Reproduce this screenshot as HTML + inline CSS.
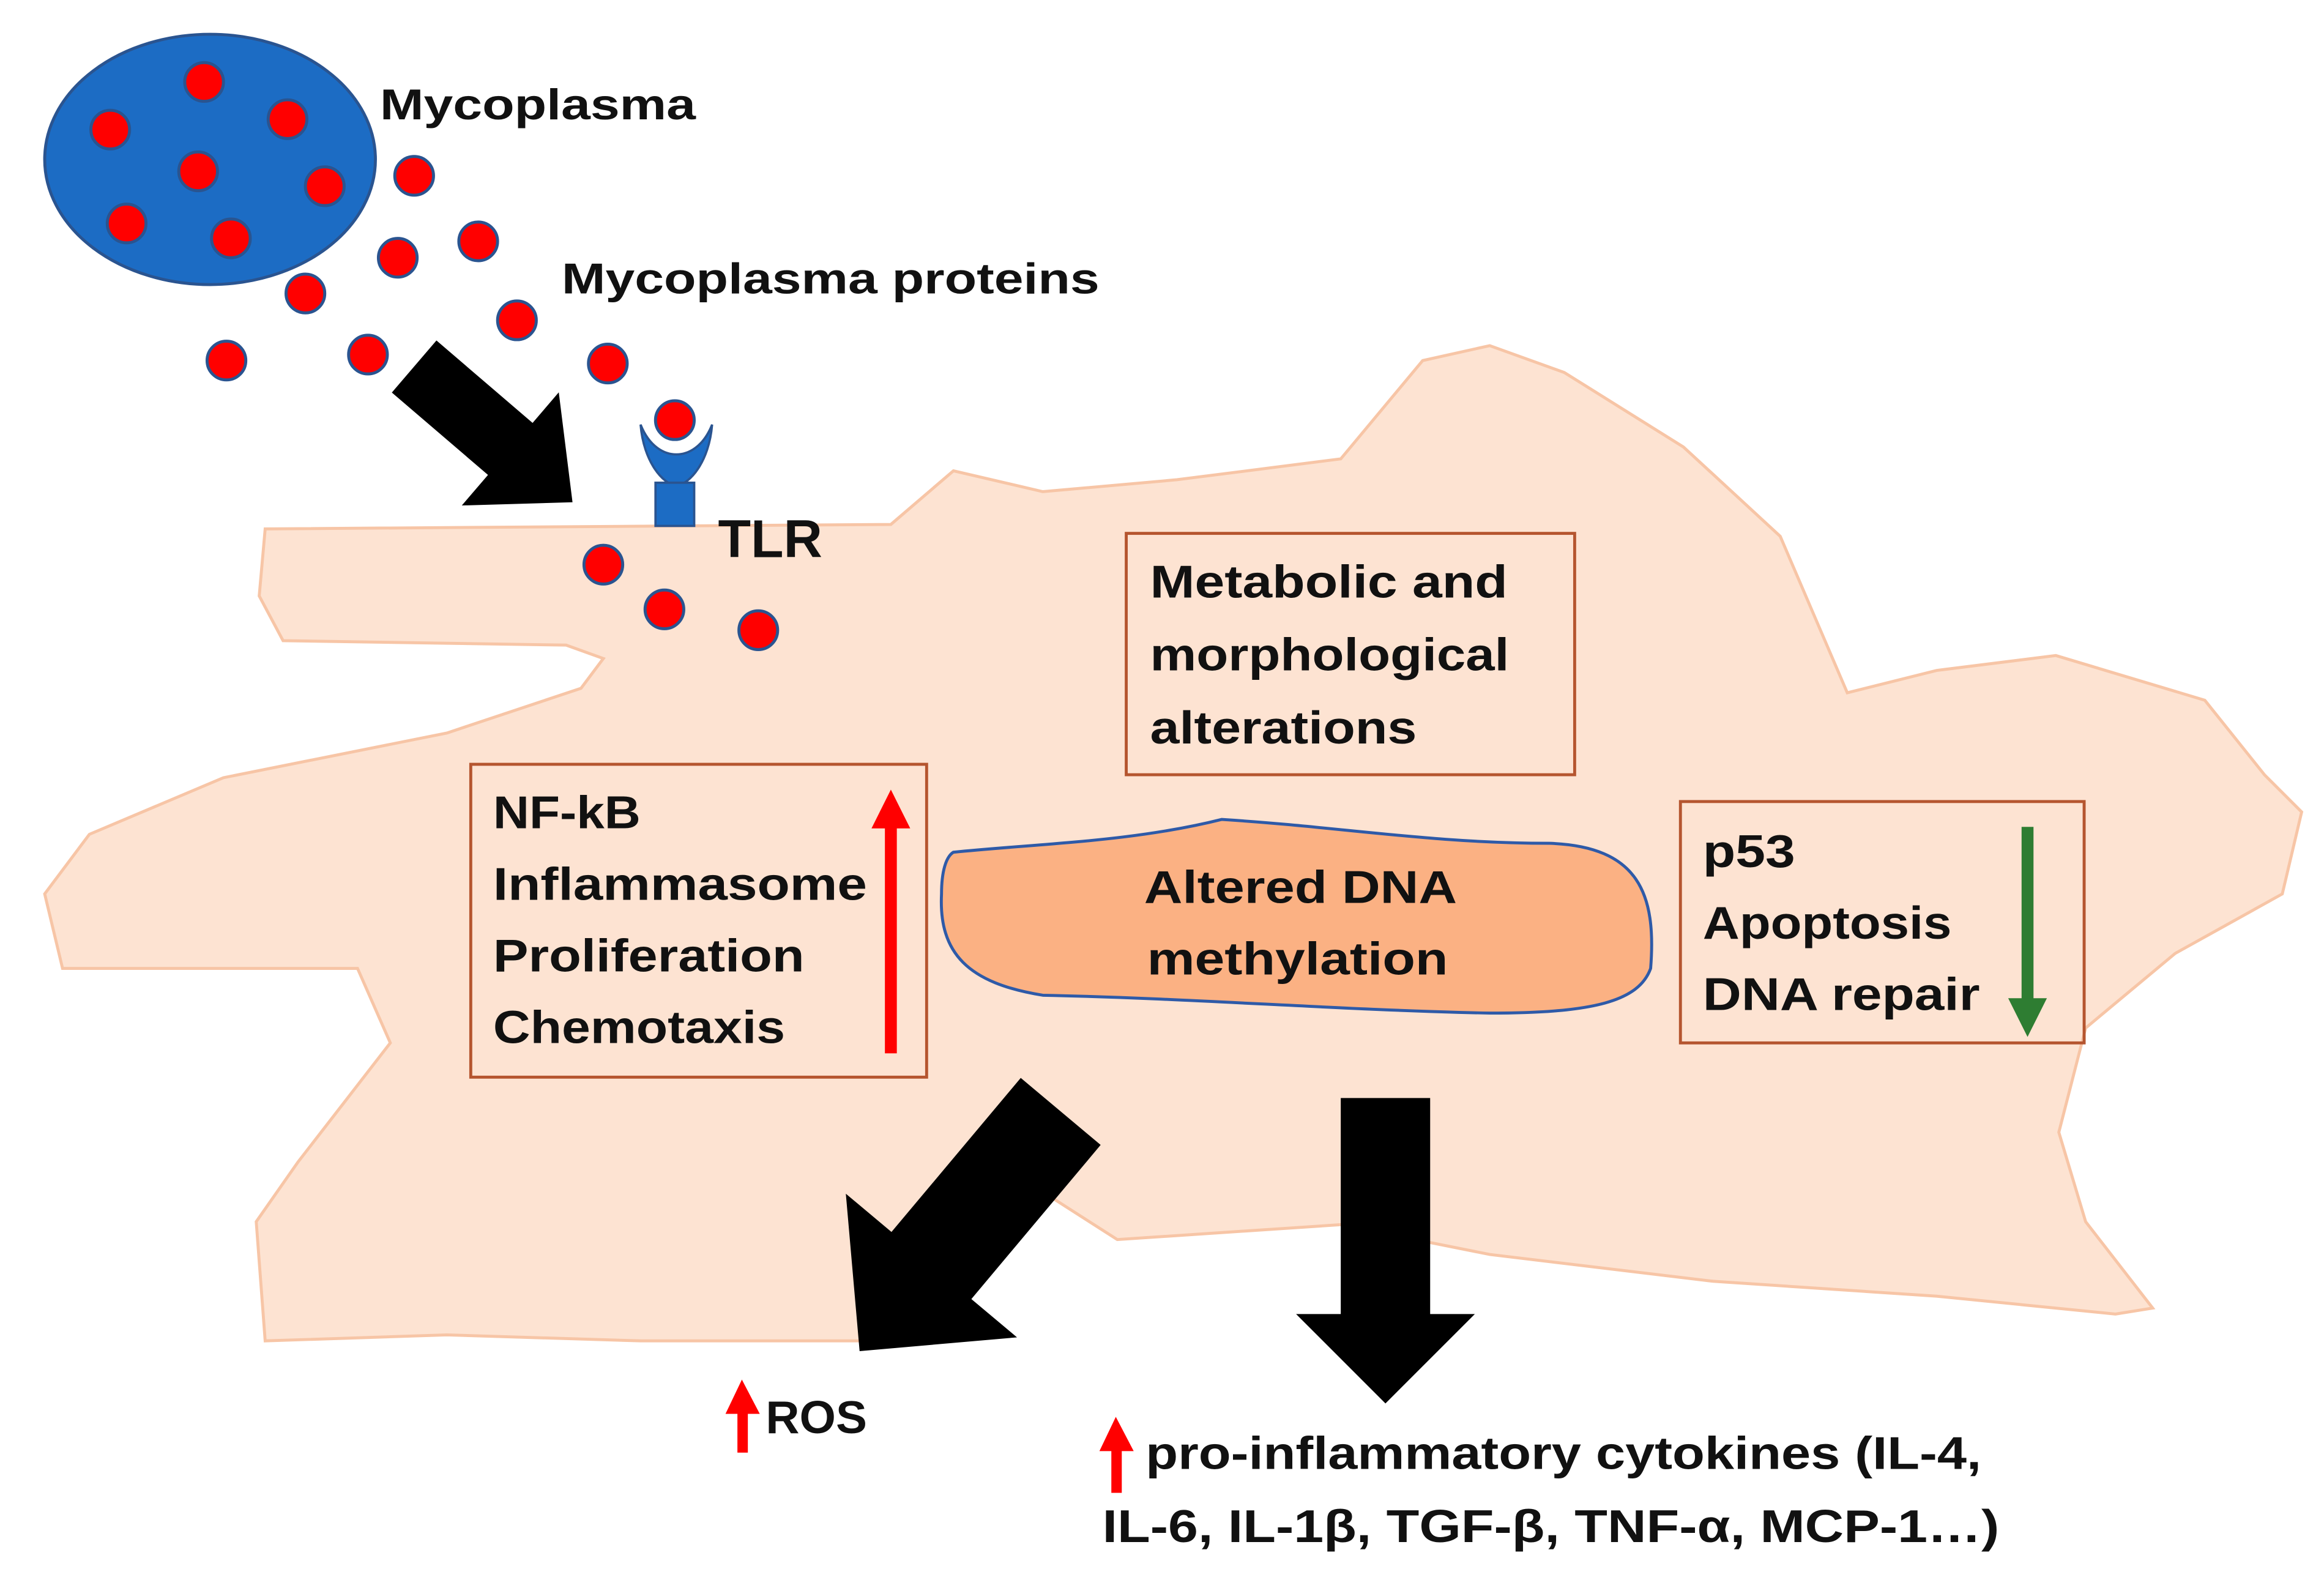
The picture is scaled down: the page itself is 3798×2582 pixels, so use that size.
<!DOCTYPE html>
<html><head><meta charset="utf-8"><style>
html,body{margin:0;padding:0;background:#fff;}
svg{display:block;}
text{font-family:"Liberation Sans",sans-serif;font-weight:bold;fill:#111;}
</style></head><body>
<svg width="3798" height="2582" viewBox="0 0 1560 1060.5" xmlns="http://www.w3.org/2000/svg" preserveAspectRatio="none">
<rect width="1560" height="1061" fill="#fff"/>
<!-- cell -->
<path d="M178,355 L598,352 L640,316 L700,330 L790,322 L900,308 L955,242 L1000,232 L1050,250 L1130,300 L1195,360 L1240,465 L1300,450 L1380,440 L1480,470 L1520,520 L1545,545 L1532,600 L1460,640 L1400,690 L1382,760 L1400,820 L1445,878 L1420,882 L1300,870 L1150,860 L1000,842 L900,822 L750,832 L700,800 L640,870 L598,900 L430,900 L300,896 L178,900 L172,820 L200,780 L262,700 L240,650 L42,650 L30,600 L60,560 L150,522 L300,492 L390,462 L405,442 L380,433 L190,430 L174,400 Z" fill="#fde3d2" stroke="#f7c5a6" stroke-width="2"/>
<!-- nucleus -->
<path d="M640,572 C700,566 760,565 820,550 C900,555 960,566 1040,566 C1100,568 1112,600 1108,650 C1100,672 1070,680 1000,680 C900,678 800,670 700,668 C650,660 630,640 632,600 C632,585 635,575 640,572 Z" fill="#fbb183" stroke="#2e5aa8" stroke-width="2"/>
<!-- mycoplasma -->
<ellipse cx="141" cy="107" rx="111" ry="84" fill="#1c6cc4" stroke="#2a5490" stroke-width="2"/>
<g fill="#f00" stroke="#2a5490" stroke-width="2">
<circle cx="137" cy="55" r="13"/><circle cx="193" cy="80" r="13"/><circle cx="74" cy="87" r="13"/>
<circle cx="133" cy="115" r="13"/><circle cx="218" cy="125" r="13"/><circle cx="85" cy="150" r="13"/>
<circle cx="155" cy="160" r="13"/><circle cx="278" cy="118" r="13"/><circle cx="267" cy="173" r="13"/>
<circle cx="321" cy="162" r="13"/><circle cx="205" cy="197" r="13"/><circle cx="347" cy="215" r="13"/>
<circle cx="152" cy="242" r="13"/><circle cx="247" cy="238" r="13"/><circle cx="408" cy="244" r="13"/>
<circle cx="405" cy="379" r="13"/><circle cx="446" cy="409" r="13"/><circle cx="509" cy="423" r="13"/>
</g>
<!-- receptor -->
<path d="M430,285 C432,310 445,325 454,326 C463,325 476,310 478,285 C472,300 462,305 454,305 C446,305 436,300 430,285 Z" fill="#1c6cc4" stroke="#2a5490" stroke-width="1.5"/>
<rect x="440" y="324" width="26" height="29" fill="#1c6cc4" stroke="#2a5490" stroke-width="1.5"/>
<circle cx="453" cy="282" r="13" fill="#f00" stroke="#2a5490" stroke-width="2"/>
<!-- black arrows -->
<g transform="translate(278,246) rotate(40.6)"><polygon points="0,-23 85,-23 85,-50 140,0 85,50 85,23 0,23" fill="#000"/></g>
<g transform="translate(712,746) rotate(130)"><polygon points="0,-35 135,-35 135,-75 210,0 135,75 135,35 0,35" fill="#000"/></g>
<polygon points="900,737 960,737 960,882 990,882 930,942 870,882 900,882" fill="#000"/>
<!-- boxes -->
<g fill="none" stroke="#b5552f" stroke-width="2">
<rect x="316" y="513" width="306" height="210"/>
<rect x="756" y="358" width="301" height="162"/>
<rect x="1128" y="538" width="271" height="162"/>
</g>
<!-- red up arrows -->
<g fill="#f00">
<rect x="594" y="552" width="8" height="155"/><polygon points="585,556 598,530 611,556"/>
<rect x="495" y="945" width="7" height="30"/><polygon points="487,949 498,926 510,949"/>
<rect x="746" y="970" width="7" height="32"/><polygon points="738,974 749,951 761,974"/>
</g>
<g fill="#2e7d32">
<rect x="1357" y="555" width="8" height="120"/><polygon points="1348,670 1361,696 1374,670"/>
</g>
<!-- text -->
<g font-size="31">
<text x="331" y="556" textLength="99" lengthAdjust="spacingAndGlyphs">NF-kB</text>
<text x="331" y="604" textLength="251" lengthAdjust="spacingAndGlyphs">Inflammasome</text>
<text x="331" y="652" textLength="209" lengthAdjust="spacingAndGlyphs">Proliferation</text>
<text x="331" y="700" textLength="196" lengthAdjust="spacingAndGlyphs">Chemotaxis</text>
<text x="772" y="401" textLength="240" lengthAdjust="spacingAndGlyphs">Metabolic and</text>
<text x="772" y="450" textLength="241" lengthAdjust="spacingAndGlyphs">morphological</text>
<text x="772" y="499" textLength="179" lengthAdjust="spacingAndGlyphs">alterations</text>
<text x="1143" y="582" textLength="62" lengthAdjust="spacingAndGlyphs">p53</text>
<text x="1143" y="630" textLength="167" lengthAdjust="spacingAndGlyphs">Apoptosis</text>
<text x="1143" y="678" textLength="186" lengthAdjust="spacingAndGlyphs">DNA repair</text>
<text x="768" y="606" textLength="210" lengthAdjust="spacingAndGlyphs">Altered DNA</text>
<text x="770" y="654" textLength="202" lengthAdjust="spacingAndGlyphs">methylation</text>
<text x="514" y="962" textLength="68" lengthAdjust="spacingAndGlyphs">ROS</text>
<text x="769" y="986" textLength="561" lengthAdjust="spacingAndGlyphs">pro-inflammatory cytokines (IL-4,</text>
<text x="740" y="1035" textLength="602" lengthAdjust="spacingAndGlyphs">IL-6, IL-1β, TGF-β, TNF-α, MCP-1…)</text>
</g>
<text x="482" y="374" font-size="36" textLength="70" lengthAdjust="spacingAndGlyphs">TLR</text>
<g font-size="29">
<text x="255" y="80" textLength="212" lengthAdjust="spacingAndGlyphs">Mycoplasma</text>
<text x="377" y="197" textLength="361" lengthAdjust="spacingAndGlyphs">Mycoplasma proteins</text>
</g>
</svg>
</body></html>
